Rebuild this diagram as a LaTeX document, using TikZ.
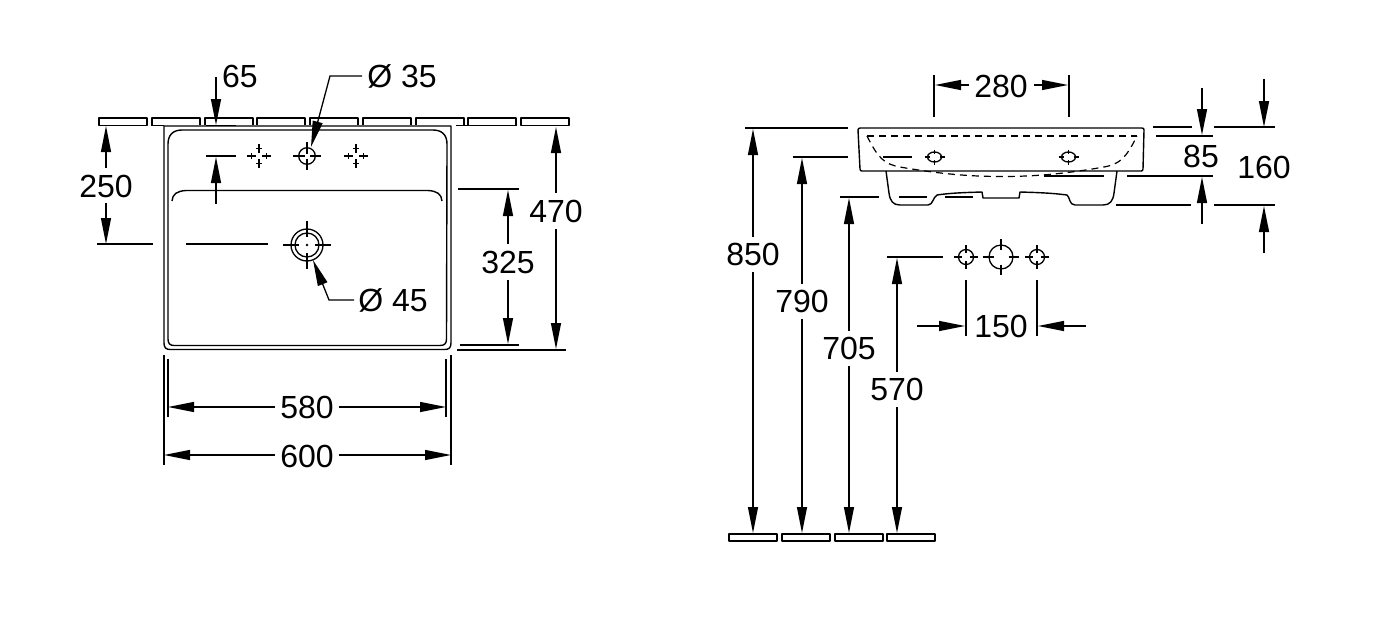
\documentclass[tikz,border=0pt]{standalone}
\usepackage{fontspec}
\setmainfont{Liberation Sans}
\usetikzlibrary{arrows.meta}
\tikzset{>={Triangle[length=26pt,width=10pt]},
         dim/.style = {line width=1.3pt},
         part/.style = {line width=1.4pt, line join=round},
         hidden/.style = {line width=1.2pt, dash pattern=on 7pt off 5pt},
         val/.style = {font=\fontsize{32}{36}\selectfont, inner sep=0pt, anchor=center, text height=23pt, text depth=0pt}}
% strip of wall or floor hatching
\newcommand{\wallstrip}[2]{\draw [part] (#1, #2) rectangle ++(48, 7);}
\newcommand{\crosshole}[5]{%
  \draw [dim] (#1, #2) circle (#3);
  \draw [dim] (#1 - #4, #2) -- (#1 - #5, #2) (#1 + #5, #2) -- (#1 + #4, #2)
    (#1, #2 - #4) -- (#1, #2 - #5) (#1, #2 + #5) -- (#1, #2 + #4);}
\begin{document}
\begin{tikzpicture}[x=1pt, y=-1pt]
    \useasboundingbox (0, 0) rectangle (1386, 622);

    % top view, wall strips
    \draw [part] (99, 118) rectangle (147, 125.5);
    \draw [part] (152, 125.5) -- (152, 118) -- (200, 118) -- (200, 125);
    \foreach \x in {205, 257, 310, 363, 416} {
      \draw [part] (\x, 125) -- (\x, 118) -- (\x + 48, 118) -- (\x + 48, 125);
    }
    \draw [part] (468, 125.5) -- (468, 118) -- (516, 118) -- (516, 125.5);
    \draw [part] (521, 118) rectangle (569, 125.5);
    \draw [part] (152, 125.5) -- (164, 125.5) (456, 125.5) -- (516, 125.5);

    % top view, basin
    \draw [part] (164, 126) -- (451, 126) -- (451, 343)
      .. controls (451, 347.5) and (449, 349.5) .. (445, 349.5) -- (170, 349.5)
      .. controls (166, 349.5) and (164, 347.5) .. (164, 343) -- cycle;
    \draw [part] (182, 130) -- (433, 130)
      .. controls (442, 130) and (447, 135) .. (447, 144)
      -- (446.5, 339) .. controls (446.5, 343.5) and (444.5, 345.5) .. (440, 345.5) -- (174, 345.5)
      .. controls (170, 345.5) and (168, 343.5) .. (168, 339) -- (168, 144)
      .. controls (168, 135) and (173, 130) .. (182, 130);
    \draw [part] (172, 201) .. controls (172.5, 194) and (177, 191) .. (186, 190.5) -- (428, 190.5)
      .. controls (437, 191) and (441.5, 194) .. (442, 201);

    % holes
    \crosshole{307}{156}{8.3}{14}{2.5}
    \fill (307, 245) circle (1.4);
    \draw [dim] (307, 245) circle (16) (307, 245) circle (12);
    \draw [dim] (283, 245) -- (299, 245) (315, 245) -- (331, 245)
      (307, 221) -- (307, 237) (307, 253) -- (307, 269);
    \foreach \x in {259, 356} {
      \draw [dim] (\x - 12, 156) -- (\x - 3, 156) (\x + 3, 156) -- (\x + 12, 156)
        (\x, 144) -- (\x, 153) (\x, 159) -- (\x, 168);
      \draw [dim] (\x - 7.5, 153) -- (\x - 7.5, 159) (\x + 7.5, 153) -- (\x + 7.5, 159)
        (\x - 3, 148.5) -- (\x + 3, 148.5) (\x - 3, 163.5) -- (\x + 3, 163.5);
    }

    % top view, extension lines
    \draw [dim] (206, 125.5) -- (236, 125.5)
      (206, 156) -- (236, 156)
      (97, 244) -- (153, 244) (186, 244) -- (268, 244)
      (458, 189) -- (519, 189)
      (460, 345) -- (519, 345)
      (457, 350) -- (566, 350)
      (168, 359) -- (168, 417) (446, 359) -- (446, 417)
      (164, 355) -- (164, 465) (451, 355) -- (451, 465);

    % top view, dimensions
    \node [val] (d65) at (240, 76) {65};
    \node [val] (d35) at (402, 76) {Ø 35};
    \node [val] (d250) at (106, 186) {250};
    \node [val] (d45) at (393, 300) {Ø 45};
    \node [val] (d470) at (556, 211) {470};
    \node [val] (d325) at (508, 262) {325};
    \node [val] (d580) at (307, 407) {580};
    \node [val] (d600) at (307, 456) {600};
    \draw [dim, ->] (216, 77) -- (216, 125);
    \draw [dim, ->] (216, 204) -- (216, 157);
    \draw [dim, ->] (362, 76) -- (330, 76) -- (311, 147);
    \draw [dim, ->] (354, 300) -- (329, 300) -- (313, 260);
    \draw [dim, ->] (106, 168) -- (106, 126);
    \draw [dim, ->] (106, 203) -- (106, 244);
    \draw [dim, ->] (556, 193) -- (556, 127);
    \draw [dim, ->] (556, 229) -- (556, 349);
    \draw [dim, ->] (508, 244) -- (508, 190);
    \draw [dim, ->] (508, 280) -- (508, 344);
    \draw [dim, ->] (275, 407) -- (168, 407);
    \draw [dim, ->] (339, 407) -- (446, 407);
    \draw [dim, ->] (275, 455) -- (164, 455);
    \draw [dim, ->] (339, 455) -- (451, 455);

    % side view, profile
    \draw [part] (860, 128) -- (1142, 128) .. controls (1143.5, 128) and (1144, 129) .. (1144, 130)
      -- (1143, 169) .. controls (1143, 170.5) and (1142, 171) .. (1141, 171) -- (862, 171)
      .. controls (861, 171) and (860, 170.5) .. (860, 169) -- (858, 130)
      .. controls (858, 129) and (859, 128) .. (860, 128);
    \draw [part] (886, 171) -- (889, 193)
      .. controls (890, 201) and (893, 205) .. (900, 205) -- (928, 205)
      .. controls (933, 205) and (933, 197) .. (937, 195)
      .. controls (950, 193) and (965, 192.5) .. (982, 192)
      -- (983, 198) -- (1019, 198) -- (1020, 192)
      .. controls (1037, 192.5) and (1052, 193) .. (1067, 195)
      .. controls (1070, 197) and (1069, 205) .. (1075, 205) -- (1103, 205)
      .. controls (1110, 205) and (1113, 201) .. (1114, 193) -- (1117, 171);
    \draw [hidden] (867, 136) -- (1137, 136);
    \draw [hidden] (867, 136) .. controls (878, 158) and (884, 164) .. (900, 167)
      .. controls (940, 174) and (970, 176.5) .. (1002, 176.5)
      .. controls (1034, 176.5) and (1064, 174) .. (1104, 167)
      .. controls (1120, 164) and (1126, 158) .. (1137, 136);
    \foreach \x in {934.5, 1068.5} {
      \draw [dim] (\x, 157) ellipse (7 and 5);
      \draw [dim] (\x - 10, 157) -- (\x - 5, 157) (\x + 5, 157) -- (\x + 10, 157)
        (\x, 149.5) -- (\x, 154) (\x, 160) -- (\x, 164.5);
    }

    % side view, wall holes
    \crosshole{966}{257}{7.5}{12}{4}
    \crosshole{1001}{257}{12}{18}{7.5}
    \crosshole{1037}{257}{7.5}{12}{4}

    % floor strips
    \wallstrip{729}{534}
    \wallstrip{782}{534}
    \wallstrip{835}{534}
    \wallstrip{887}{534}

    % side view, extension lines
    \draw [dim] (934, 75) -- (934, 117) (1069, 75) -- (1069, 117)
      (745, 128) -- (848, 128)
      (793, 157) -- (848, 157) (883, 157) -- (912, 157)
      (840, 197) -- (879, 197) (899, 197) -- (927, 197) (945, 197) -- (973, 197)
      (887, 257) -- (943, 257)
      (966, 280) -- (966, 336) (1037, 280) -- (1037, 336)
      (1153, 127) -- (1192, 127) (1214, 127) -- (1275, 127)
      (1156, 136) -- (1213, 136)
      (1044, 176) -- (1104, 176) (1127, 176) -- (1213, 176)
      (1116, 205) -- (1191, 205) (1214, 205) -- (1275, 205);

    % side view, dimensions
    \node [val] (d280) at (1001, 86) {280};
    \node [val] (d85) at (1201, 156) {85};
    \node [val] (d160) at (1264, 167) {160};
    \node [val] (d850) at (753, 254) {850};
    \node [val] (d790) at (802, 301) {790};
    \node [val] (d705) at (849, 348) {705};
    \node [val] (d570) at (897, 389) {570};
    \node [val] (d150) at (1001, 326) {150};
    \draw [dim, ->] (969, 85) -- (935, 85);
    \draw [dim, ->] (1034, 85) -- (1068, 85);
    \draw [dim, ->] (1202, 88) -- (1202, 135);
    \draw [dim, ->] (1202, 224) -- (1202, 177);
    \draw [dim, ->] (1264, 79) -- (1264, 127);
    \draw [dim, ->] (1264, 253) -- (1264, 206);
    \draw [dim, ->] (753, 237) -- (753, 129);
    \draw [dim, ->] (753, 272) -- (753, 533);
    \draw [dim, ->] (802, 284) -- (802, 158);
    \draw [dim, ->] (802, 319) -- (802, 533);
    \draw [dim, ->] (849, 331) -- (849, 198);
    \draw [dim, ->] (849, 366) -- (849, 533);
    \draw [dim, ->] (897, 372) -- (897, 258);
    \draw [dim, ->] (897, 407) -- (897, 533);
    \draw [dim, ->] (917, 326) -- (965, 326);
    \draw [dim, ->] (1086, 326) -- (1038, 326);
  \end{tikzpicture}
\end{document}
